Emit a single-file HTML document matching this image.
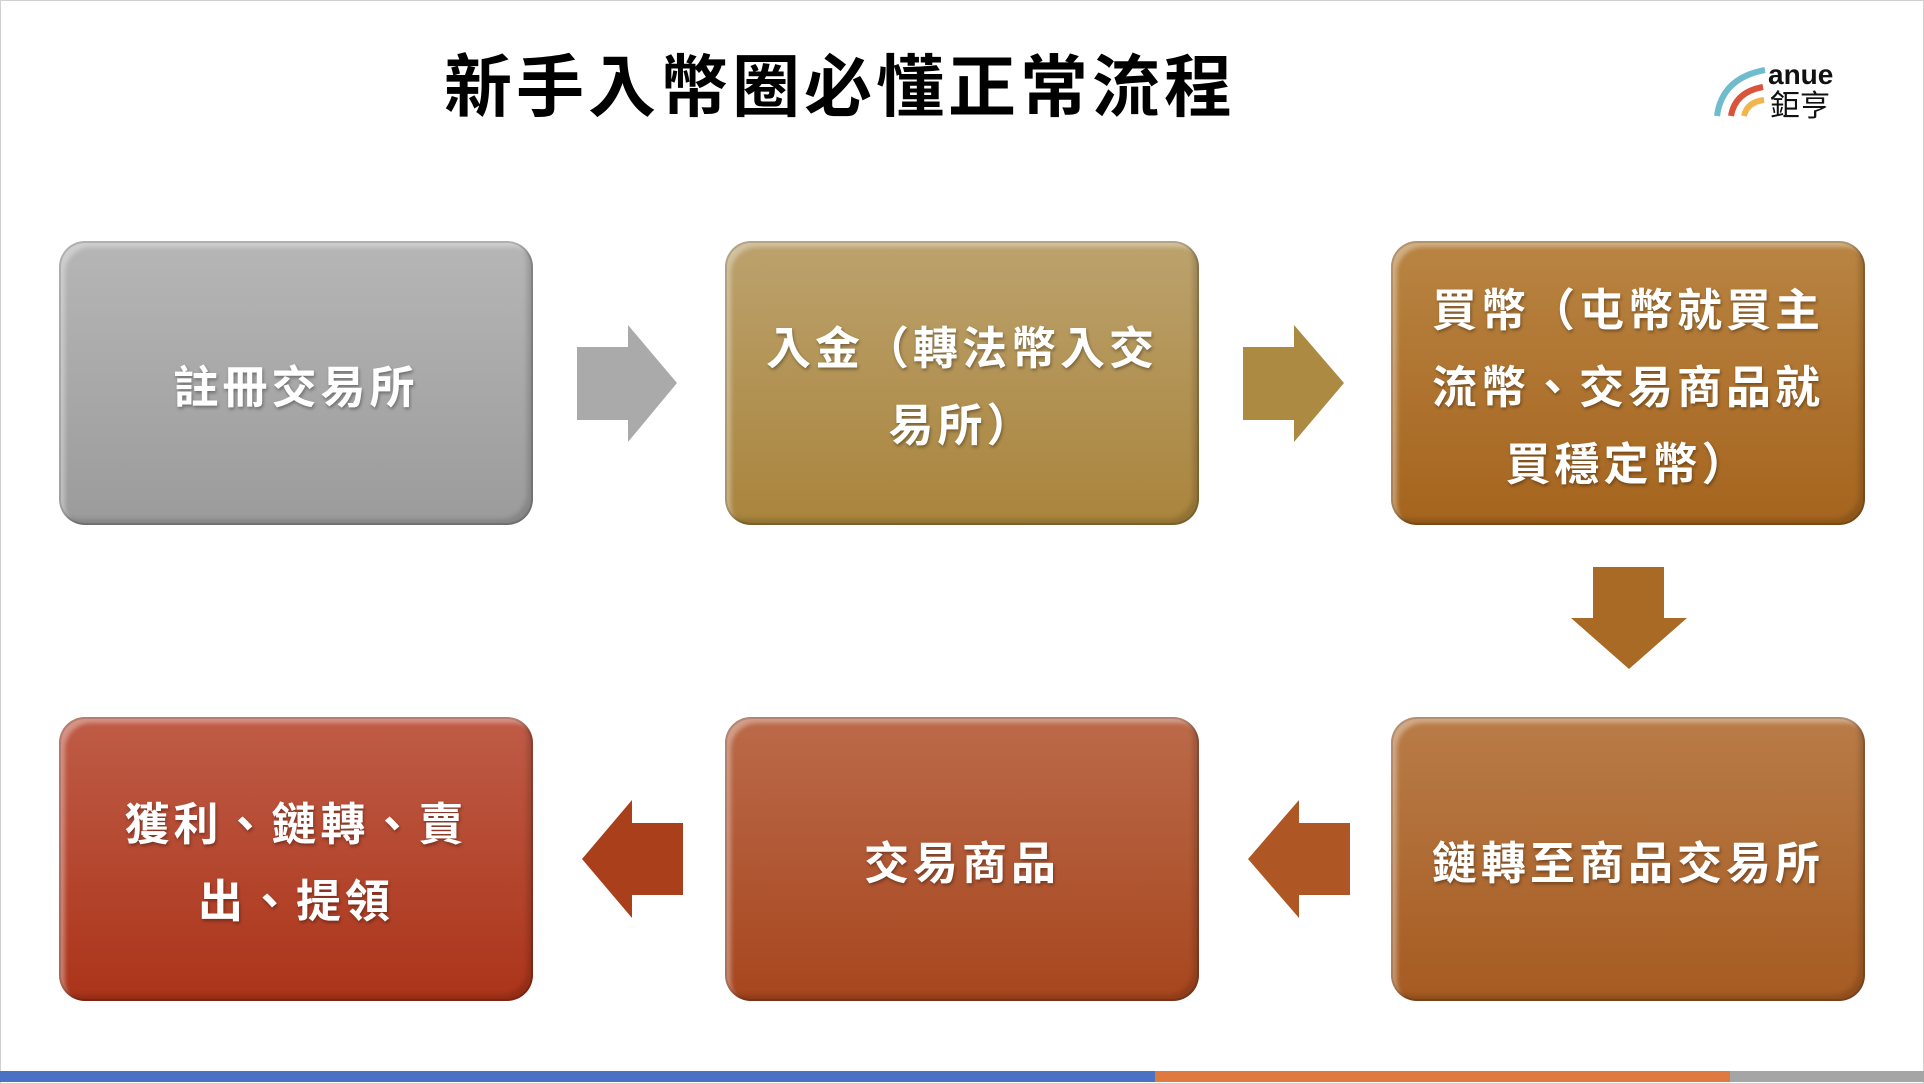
<!DOCTYPE html>
<html><head><meta charset="utf-8"><style>
body{margin:0;width:1924px;height:1084px;background:#fff;position:relative;overflow:hidden;font-family:"Liberation Sans","Noto Sans CJK TC",sans-serif}
.frame{position:absolute;left:0;top:0;width:1922px;height:1082px;border:1px solid #d0d0d0}
.title{position:absolute;left:340px;width:1000px;top:32px;text-align:center;font-size:68px;font-weight:bold;color:#000;letter-spacing:4px;font-family:"Noto Sans CJK TC",sans-serif}
.box{position:absolute;width:474px;height:284px;border-radius:26px;display:flex;align-items:center;justify-content:center;text-align:center;color:#fff;font-weight:bold;font-size:45px;letter-spacing:4px;line-height:77px;font-family:"Noto Sans CJK TC",sans-serif;text-shadow:1px 2px 3px rgba(0,0,0,.35);box-sizing:border-box;box-shadow:inset 0 0 0 2px rgba(0,0,0,.15),inset 6px 6px 4px rgba(255,255,255,.35),inset -6px -6px 5px rgba(0,0,0,.15);padding:0 10px;white-space:nowrap}
.r1{top:241px}.r2{top:717px}
.c1{left:59px}.c2{left:725px}.c3{left:1391px}
svg{position:absolute;left:0;top:0}
.bar{position:absolute;top:1071px;height:11px}
</style></head><body>
<div class="frame"></div>
<div class="title">新手入幣圈必懂正常流程</div>
<svg width="1924" height="1084">
<path d="M1717 116 Q1722 78 1765 70" stroke="#6fbccd" stroke-width="6" fill="none"/>
<path d="M1731 116 Q1735 92 1763 87" stroke="#d9543a" stroke-width="6" fill="none"/>
<path d="M1744 116 Q1747 102 1764 100" stroke="#f1b54d" stroke-width="6" fill="none"/>
<text x="1768" y="84" font-family="Liberation Sans" font-weight="bold" font-size="28" fill="#111">anue</text>
<text x="1770" y="116" font-family="Noto Sans CJK TC" font-size="30" fill="#111">鉅亨</text>
<polygon points="577,347 628,347 628,325 677,383 628,442 628,420 577,420" fill="#aaaaaa"/>
<polygon points="1243,347 1294,347 1294,325 1344,383 1294,442 1294,420 1243,420" fill="#ad8a42"/>
<polygon points="1593,567 1664,567 1664,618 1687,618 1629,669 1571,618 1593,618" fill="#a86a24"/>
<polygon points="683,823 632,823 632,800 582,859 632,918 632,895 683,895" fill="#a9401b"/>
<polygon points="1350,823 1299,823 1299,800 1248,859 1299,918 1299,895 1350,895" fill="#af5724"/>
</svg>
<div class="box r1 c1" style="background:linear-gradient(#b6b6b6,#9b9b9b)">註冊交易所</div>
<div class="box r1 c2" style="background:linear-gradient(#bca26d,#a9843c)">入金（轉法幣入交<br>易所）</div>
<div class="box r1 c3" style="background:linear-gradient(#b98442,#a5641e)">買幣（屯幣就買主<br>流幣、交易商品就<br>買穩定幣）</div>
<div class="box r2 c1" style="background:linear-gradient(#bf5c47,#ab3419)">獲利、鏈轉、賣<br>出、提領</div>
<div class="box r2 c2" style="background:linear-gradient(#bb6a4a,#a7461e)">交易商品</div>
<div class="box r2 c3" style="background:linear-gradient(#b97c48,#a65b21)">鏈轉至商品交易所</div>
<div class="bar" style="left:0;width:1155px;background:#4a72c4"></div>
<div class="bar" style="left:1155px;width:575px;background:#e0793f"></div>
<div class="bar" style="left:1730px;width:194px;background:#a5a5a5"></div>
</body></html>
